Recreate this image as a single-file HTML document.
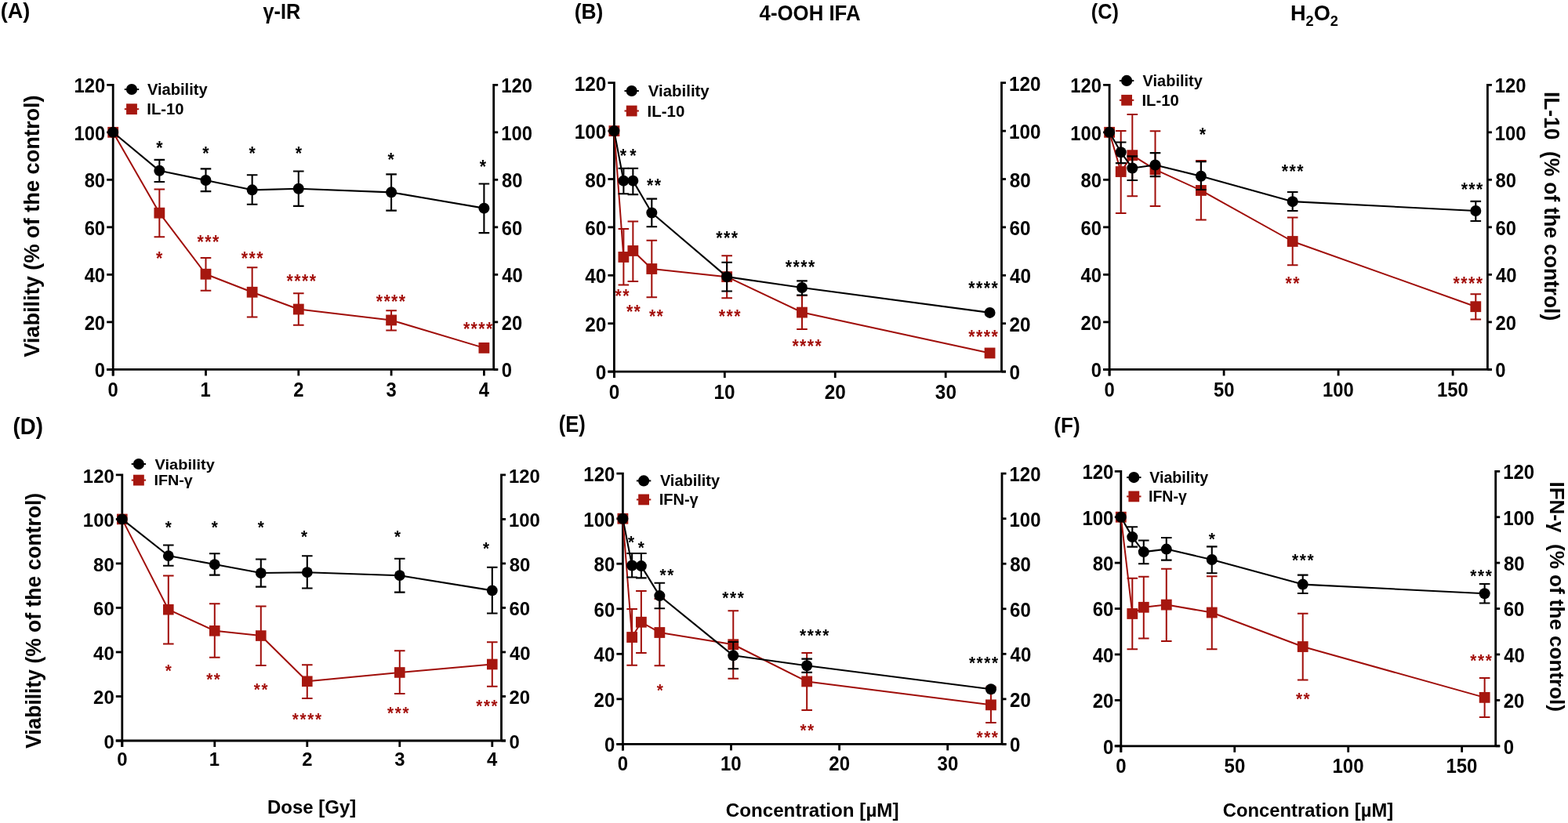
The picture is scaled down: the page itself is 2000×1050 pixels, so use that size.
<!DOCTYPE html>
<html><head><meta charset="utf-8"><title>Figure</title>
<style>
html,body{margin:0;padding:0;background:#fff;}
svg{display:block;}
text{font-family:'Liberation Sans',Arial,sans-serif;font-weight:bold;white-space:pre;}
</style></head>
<body>
<svg width="2000" height="1050" viewBox="0 0 2000 1050">
<rect width="2000" height="1050" fill="#fff"/>
<path d="M136.2,108.28H144.2V479.4" fill="none" stroke="#000" stroke-width="2.8" stroke-linejoin="miter"/>
<path d="M635.2,108.28H629.7V471.4" fill="none" stroke="#000" stroke-width="2.8" stroke-linejoin="miter"/>
<line x1="136.2" y1="471.4" x2="635.2" y2="471.4" stroke="#000" stroke-width="2.8"/>
<line x1="136.2" y1="471.4" x2="144.2" y2="471.4" stroke="#000" stroke-width="2.8"/>
<line x1="629.7" y1="471.4" x2="635.2" y2="471.4" stroke="#000" stroke-width="2.8"/>
<line x1="136.2" y1="410.88" x2="144.2" y2="410.88" stroke="#000" stroke-width="2.8"/>
<line x1="629.7" y1="410.88" x2="635.2" y2="410.88" stroke="#000" stroke-width="2.8"/>
<line x1="136.2" y1="350.36" x2="144.2" y2="350.36" stroke="#000" stroke-width="2.8"/>
<line x1="629.7" y1="350.36" x2="635.2" y2="350.36" stroke="#000" stroke-width="2.8"/>
<line x1="136.2" y1="289.84" x2="144.2" y2="289.84" stroke="#000" stroke-width="2.8"/>
<line x1="629.7" y1="289.84" x2="635.2" y2="289.84" stroke="#000" stroke-width="2.8"/>
<line x1="136.2" y1="229.32" x2="144.2" y2="229.32" stroke="#000" stroke-width="2.8"/>
<line x1="629.7" y1="229.32" x2="635.2" y2="229.32" stroke="#000" stroke-width="2.8"/>
<line x1="136.2" y1="168.8" x2="144.2" y2="168.8" stroke="#000" stroke-width="2.8"/>
<line x1="629.7" y1="168.8" x2="635.2" y2="168.8" stroke="#000" stroke-width="2.8"/>
<line x1="144.2" y1="471.4" x2="144.2" y2="479.4" stroke="#000" stroke-width="2.8"/>
<line x1="262.5" y1="471.4" x2="262.5" y2="479.4" stroke="#000" stroke-width="2.8"/>
<line x1="380.8" y1="471.4" x2="380.8" y2="479.4" stroke="#000" stroke-width="2.8"/>
<line x1="499.1" y1="471.4" x2="499.1" y2="479.4" stroke="#000" stroke-width="2.8"/>
<line x1="617.4" y1="471.4" x2="617.4" y2="479.4" stroke="#000" stroke-width="2.8"/>
<text transform="translate(120.84,481.49) scale(0.9300,1)" font-size="25.6" fill="#000">0</text>
<text transform="translate(639.65,481.49) scale(0.9300,1)" font-size="25.6" fill="#000">0</text>
<text transform="translate(107.63,420.97) scale(0.9300,1)" font-size="25.6" fill="#000">20</text>
<text transform="translate(639.77,420.97) scale(0.9300,1)" font-size="25.6" fill="#000">20</text>
<text transform="translate(107.63,360.45) scale(0.9300,1)" font-size="25.6" fill="#000">40</text>
<text transform="translate(640.24,360.45) scale(0.9300,1)" font-size="25.6" fill="#000">40</text>
<text transform="translate(107.63,299.93) scale(0.9300,1)" font-size="25.6" fill="#000">60</text>
<text transform="translate(639.77,299.93) scale(0.9300,1)" font-size="25.6" fill="#000">60</text>
<text transform="translate(107.63,239.41) scale(0.9300,1)" font-size="25.6" fill="#000">80</text>
<text transform="translate(639.89,239.41) scale(0.9300,1)" font-size="25.6" fill="#000">80</text>
<text transform="translate(94.41,178.89) scale(0.9300,1)" font-size="25.6" fill="#000">100</text>
<text transform="translate(639.17,178.89) scale(0.9300,1)" font-size="25.6" fill="#000">100</text>
<text transform="translate(94.41,118.37) scale(0.9300,1)" font-size="25.6" fill="#000">120</text>
<text transform="translate(639.17,118.37) scale(0.9300,1)" font-size="25.6" fill="#000">120</text>
<text transform="translate(137.59,505.92) scale(0.9300,1)" font-size="25.6" fill="#000">0</text>
<text transform="translate(255.48,505.92) scale(0.9300,1)" font-size="25.6" fill="#000">1</text>
<text transform="translate(374.25,505.92) scale(0.9300,1)" font-size="25.6" fill="#000">2</text>
<text transform="translate(492.61,505.92) scale(0.9300,1)" font-size="25.6" fill="#000">3</text>
<text transform="translate(610.67,505.92) scale(0.9300,1)" font-size="25.6" fill="#000">4</text>
<polyline points="144.2,168.8 203.35,271.68 262.5,349.75 321.65,372.75 380.8,394.54 499.1,408.46 617.4,443.86" fill="none" stroke="#a00e0a" stroke-width="2" stroke-linejoin="round"/>
<path d="M203.35,241.42V302.25M196.55,241.42H210.15M196.55,302.25H210.15" stroke="#a00e0a" stroke-width="2" fill="none"/>
<path d="M262.5,328.88V370.63M255.7,328.88H269.3M255.7,370.63H269.3" stroke="#a00e0a" stroke-width="2" fill="none"/>
<path d="M321.65,341.28V404.53M314.85,341.28H328.45M314.85,404.53H328.45" stroke="#a00e0a" stroke-width="2" fill="none"/>
<path d="M380.8,374.27V414.81M374,374.27H387.6M374,414.81H387.6" stroke="#a00e0a" stroke-width="2" fill="none"/>
<path d="M499.1,396.36V421.47M492.3,396.36H505.9M492.3,421.47H505.9" stroke="#a00e0a" stroke-width="2" fill="none"/>
<rect x="137.3" y="161.9" width="13.8" height="13.8" fill="#a6170f"/>
<rect x="196.45" y="264.78" width="13.8" height="13.8" fill="#a6170f"/>
<rect x="255.6" y="342.85" width="13.8" height="13.8" fill="#a6170f"/>
<rect x="314.75" y="365.85" width="13.8" height="13.8" fill="#a6170f"/>
<rect x="373.9" y="387.64" width="13.8" height="13.8" fill="#a6170f"/>
<rect x="492.2" y="401.56" width="13.8" height="13.8" fill="#a6170f"/>
<rect x="610.5" y="436.96" width="13.8" height="13.8" fill="#a6170f"/>
<polyline points="144.2,168.8 203.35,217.82 262.5,229.93 321.65,242.33 380.8,240.82 499.1,245.36 617.4,265.63" fill="none" stroke="#000" stroke-width="2.1" stroke-linejoin="round"/>
<path d="M203.35,203.9V232.04M196.55,203.9H210.15M196.55,232.04H210.15" stroke="#000" stroke-width="2.1" fill="none"/>
<path d="M262.5,215.4V244.15M255.7,215.4H269.3M255.7,244.15H269.3" stroke="#000" stroke-width="2.1" fill="none"/>
<path d="M321.65,223.27V260.79M314.85,223.27H328.45M314.85,260.79H328.45" stroke="#000" stroke-width="2.1" fill="none"/>
<path d="M380.8,218.43V262.91M374,218.43H387.6M374,262.91H387.6" stroke="#000" stroke-width="2.1" fill="none"/>
<path d="M499.1,222.36V268.66M492.3,222.36H505.9M492.3,268.66H505.9" stroke="#000" stroke-width="2.1" fill="none"/>
<path d="M617.4,234.46V297.1M610.6,234.46H624.2M610.6,297.1H624.2" stroke="#000" stroke-width="2.1" fill="none"/>
<circle cx="144.2" cy="168.8" r="7" fill="#000"/>
<circle cx="203.35" cy="217.82" r="7" fill="#000"/>
<circle cx="262.5" cy="229.93" r="7" fill="#000"/>
<circle cx="321.65" cy="242.33" r="7" fill="#000"/>
<circle cx="380.8" cy="240.82" r="7" fill="#000"/>
<circle cx="499.1" cy="245.36" r="7" fill="#000"/>
<circle cx="617.4" cy="265.63" r="7" fill="#000"/>
<text transform="translate(199.14,197.12) scale(0.92,1)" font-size="23.2" letter-spacing="1.52" fill="#000">*</text>
<text transform="translate(258.34,203.62) scale(0.92,1)" font-size="23.2" letter-spacing="1.52" fill="#000">*</text>
<text transform="translate(317.44,203.62) scale(0.92,1)" font-size="23.2" letter-spacing="1.52" fill="#000">*</text>
<text transform="translate(376.84,204.42) scale(0.92,1)" font-size="23.2" letter-spacing="1.52" fill="#000">*</text>
<text transform="translate(494.44,211.72) scale(0.92,1)" font-size="23.2" letter-spacing="1.52" fill="#000">*</text>
<text transform="translate(611.84,221.22) scale(0.92,1)" font-size="23.2" letter-spacing="1.52" fill="#000">*</text>
<text transform="translate(199.04,338.42) scale(0.92,1)" font-size="23.2" letter-spacing="1.52" fill="#a30f0b">*</text>
<text transform="translate(251.54,317.42) scale(0.92,1)" font-size="23.2" letter-spacing="1.52" fill="#a30f0b">***</text>
<text transform="translate(307.84,338.12) scale(0.92,1)" font-size="23.2" letter-spacing="1.52" fill="#a30f0b">***</text>
<text transform="translate(365.59,366.52) scale(0.92,1)" font-size="23.2" letter-spacing="1.52" fill="#a30f0b">****</text>
<text transform="translate(479.69,392.72) scale(0.92,1)" font-size="23.2" letter-spacing="1.52" fill="#a30f0b">****</text>
<text transform="translate(590.89,428.22) scale(0.92,1)" font-size="23.2" letter-spacing="1.52" fill="#a30f0b">****</text>
<line x1="158.8" y1="114" x2="177.2" y2="114" stroke="#000" stroke-width="2"/>
<circle cx="168" cy="114" r="7.1" fill="#000"/>
<line x1="158.8" y1="139.2" x2="177.2" y2="139.2" stroke="#a6170f" stroke-width="2"/>
<rect x="161.1" y="132.3" width="13.8" height="13.8" fill="#a6170f"/>
<text transform="translate(187.9,120.6) scale(1.0066,1)" font-size="20" fill="#000">Viability</text>
<text transform="translate(187.29,146.3) scale(1.0112,1)" font-size="20" fill="#000">IL-10</text>
<path d="M775.4,105.7H783.4V482.1" fill="none" stroke="#000" stroke-width="2.8" stroke-linejoin="miter"/>
<path d="M1283,105.7H1277.5V474.1" fill="none" stroke="#000" stroke-width="2.8" stroke-linejoin="miter"/>
<line x1="775.4" y1="474.1" x2="1283" y2="474.1" stroke="#000" stroke-width="2.8"/>
<line x1="775.4" y1="474.1" x2="783.4" y2="474.1" stroke="#000" stroke-width="2.8"/>
<line x1="1277.5" y1="474.1" x2="1283" y2="474.1" stroke="#000" stroke-width="2.8"/>
<line x1="775.4" y1="412.7" x2="783.4" y2="412.7" stroke="#000" stroke-width="2.8"/>
<line x1="1277.5" y1="412.7" x2="1283" y2="412.7" stroke="#000" stroke-width="2.8"/>
<line x1="775.4" y1="351.3" x2="783.4" y2="351.3" stroke="#000" stroke-width="2.8"/>
<line x1="1277.5" y1="351.3" x2="1283" y2="351.3" stroke="#000" stroke-width="2.8"/>
<line x1="775.4" y1="289.9" x2="783.4" y2="289.9" stroke="#000" stroke-width="2.8"/>
<line x1="1277.5" y1="289.9" x2="1283" y2="289.9" stroke="#000" stroke-width="2.8"/>
<line x1="775.4" y1="228.5" x2="783.4" y2="228.5" stroke="#000" stroke-width="2.8"/>
<line x1="1277.5" y1="228.5" x2="1283" y2="228.5" stroke="#000" stroke-width="2.8"/>
<line x1="775.4" y1="167.1" x2="783.4" y2="167.1" stroke="#000" stroke-width="2.8"/>
<line x1="1277.5" y1="167.1" x2="1283" y2="167.1" stroke="#000" stroke-width="2.8"/>
<line x1="783.4" y1="474.1" x2="783.4" y2="482.1" stroke="#000" stroke-width="2.8"/>
<line x1="924.33" y1="474.1" x2="924.33" y2="482.1" stroke="#000" stroke-width="2.8"/>
<line x1="1065.26" y1="474.1" x2="1065.26" y2="482.1" stroke="#000" stroke-width="2.8"/>
<line x1="1206.19" y1="474.1" x2="1206.19" y2="482.1" stroke="#000" stroke-width="2.8"/>
<text transform="translate(759.78,484.19) scale(0.9500,1)" font-size="25.6" fill="#000">0</text>
<text transform="translate(1287.43,484.19) scale(0.9500,1)" font-size="25.6" fill="#000">0</text>
<text transform="translate(746.28,422.79) scale(0.9500,1)" font-size="25.6" fill="#000">20</text>
<text transform="translate(1287.55,422.79) scale(0.9500,1)" font-size="25.6" fill="#000">20</text>
<text transform="translate(746.28,361.39) scale(0.9500,1)" font-size="25.6" fill="#000">40</text>
<text transform="translate(1288.04,361.39) scale(0.9500,1)" font-size="25.6" fill="#000">40</text>
<text transform="translate(746.28,299.99) scale(0.9500,1)" font-size="25.6" fill="#000">60</text>
<text transform="translate(1287.55,299.99) scale(0.9500,1)" font-size="25.6" fill="#000">60</text>
<text transform="translate(746.28,238.59) scale(0.9500,1)" font-size="25.6" fill="#000">80</text>
<text transform="translate(1287.67,238.59) scale(0.9500,1)" font-size="25.6" fill="#000">80</text>
<text transform="translate(732.78,177.19) scale(0.9500,1)" font-size="25.6" fill="#000">100</text>
<text transform="translate(1286.94,177.19) scale(0.9500,1)" font-size="25.6" fill="#000">100</text>
<text transform="translate(732.78,115.79) scale(0.9500,1)" font-size="25.6" fill="#000">120</text>
<text transform="translate(1286.94,115.79) scale(0.9500,1)" font-size="25.6" fill="#000">120</text>
<text transform="translate(776.65,509.32) scale(0.9500,1)" font-size="25.6" fill="#000">0</text>
<text transform="translate(910.59,509.32) scale(0.9500,1)" font-size="25.6" fill="#000">10</text>
<text transform="translate(1051.82,509.32) scale(0.9500,1)" font-size="25.6" fill="#000">20</text>
<text transform="translate(1192.87,509.32) scale(0.9500,1)" font-size="25.6" fill="#000">30</text>
<polyline points="783.4,167.1 795.38,327.97 807.36,319.99 831.32,343.01 927.15,353.14 1022.98,398.58 1262.56,450.46" fill="none" stroke="#a00e0a" stroke-width="2" stroke-linejoin="round"/>
<path d="M795.38,292.05V363.58M788.58,292.05H802.18M788.58,363.58H802.18" stroke="#a00e0a" stroke-width="2" fill="none"/>
<path d="M807.36,282.53V358.98M800.56,282.53H814.16M800.56,358.98H814.16" stroke="#a00e0a" stroke-width="2" fill="none"/>
<path d="M831.32,306.79V379.24M824.52,306.79H838.12M824.52,379.24H838.12" stroke="#a00e0a" stroke-width="2" fill="none"/>
<path d="M927.15,326.13V380.16M920.35,326.13H933.95M920.35,380.16H933.95" stroke="#a00e0a" stroke-width="2" fill="none"/>
<path d="M1022.98,377.09V420.07M1016.18,377.09H1029.78M1016.18,420.07H1029.78" stroke="#a00e0a" stroke-width="2" fill="none"/>
<rect x="776.5" y="160.2" width="13.8" height="13.8" fill="#a6170f"/>
<rect x="788.48" y="321.07" width="13.8" height="13.8" fill="#a6170f"/>
<rect x="800.46" y="313.09" width="13.8" height="13.8" fill="#a6170f"/>
<rect x="824.42" y="336.11" width="13.8" height="13.8" fill="#a6170f"/>
<rect x="920.25" y="346.24" width="13.8" height="13.8" fill="#a6170f"/>
<rect x="1016.08" y="391.68" width="13.8" height="13.8" fill="#a6170f"/>
<rect x="1255.66" y="443.56" width="13.8" height="13.8" fill="#a6170f"/>
<polyline points="783.4,167.1 795.38,230.65 807.36,230.65 831.32,271.48 927.15,353.14 1022.98,366.96 1262.56,398.89" fill="none" stroke="#000" stroke-width="2.1" stroke-linejoin="round"/>
<path d="M795.38,214.69V247.23M788.58,214.69H802.18M788.58,247.23H802.18" stroke="#000" stroke-width="2.1" fill="none"/>
<path d="M807.36,214.69V248.15M800.56,214.69H814.16M800.56,248.15H814.16" stroke="#000" stroke-width="2.1" fill="none"/>
<path d="M831.32,253.67V289.29M824.52,253.67H838.12M824.52,289.29H838.12" stroke="#000" stroke-width="2.1" fill="none"/>
<path d="M927.15,334.72V371.56M920.35,334.72H933.95M920.35,371.56H933.95" stroke="#000" stroke-width="2.1" fill="none"/>
<path d="M1022.98,358.36V376.47M1016.18,358.36H1029.78M1016.18,376.47H1029.78" stroke="#000" stroke-width="2.1" fill="none"/>
<circle cx="783.4" cy="167.1" r="7" fill="#000"/>
<circle cx="795.38" cy="230.65" r="7" fill="#000"/>
<circle cx="807.36" cy="230.65" r="7" fill="#000"/>
<circle cx="831.32" cy="271.48" r="7" fill="#000"/>
<circle cx="927.15" cy="353.14" r="7" fill="#000"/>
<circle cx="1022.98" cy="366.96" r="7" fill="#000"/>
<circle cx="1262.56" cy="398.89" r="7" fill="#000"/>
<text transform="translate(790.64,207.22) scale(0.92,1)" font-size="23.2" letter-spacing="1.52" fill="#000">*</text>
<text transform="translate(803.34,207.22) scale(0.92,1)" font-size="23.2" letter-spacing="1.52" fill="#000">*</text>
<text transform="translate(824.99,244.92) scale(0.92,1)" font-size="23.2" letter-spacing="1.52" fill="#000">**</text>
<text transform="translate(913.24,312.02) scale(0.92,1)" font-size="23.2" letter-spacing="1.52" fill="#000">***</text>
<text transform="translate(1001.79,348.92) scale(0.92,1)" font-size="23.2" letter-spacing="1.52" fill="#000">****</text>
<text transform="translate(1235.29,375.62) scale(0.92,1)" font-size="23.2" letter-spacing="1.52" fill="#000">****</text>
<text transform="translate(784.59,386.22) scale(0.92,1)" font-size="23.2" letter-spacing="1.52" fill="#a30f0b">**</text>
<text transform="translate(798.89,406.22) scale(0.92,1)" font-size="23.2" letter-spacing="1.52" fill="#a30f0b">**</text>
<text transform="translate(827.89,412.22) scale(0.92,1)" font-size="23.2" letter-spacing="1.52" fill="#a30f0b">**</text>
<text transform="translate(916.74,412.32) scale(0.92,1)" font-size="23.2" letter-spacing="1.52" fill="#a30f0b">***</text>
<text transform="translate(1010.39,449.52) scale(0.92,1)" font-size="23.2" letter-spacing="1.52" fill="#a30f0b">****</text>
<text transform="translate(1235.29,437.92) scale(0.92,1)" font-size="23.2" letter-spacing="1.52" fill="#a30f0b">****</text>
<line x1="796.5" y1="116" x2="814.9" y2="116" stroke="#000" stroke-width="2"/>
<circle cx="805.7" cy="116" r="7.1" fill="#000"/>
<line x1="796.5" y1="141.5" x2="814.9" y2="141.5" stroke="#a6170f" stroke-width="2"/>
<rect x="798.8" y="134.6" width="13.8" height="13.8" fill="#a6170f"/>
<text transform="translate(826.8,123.2) scale(1.0010,1)" font-size="20.4" fill="#000">Viability</text>
<text transform="translate(825.57,148.6) scale(1.0247,1)" font-size="20" fill="#000">IL-10</text>
<path d="M1407.1,108.28H1415.1V479.4" fill="none" stroke="#000" stroke-width="2.8" stroke-linejoin="miter"/>
<path d="M1902.9,108.28H1897.4V471.4" fill="none" stroke="#000" stroke-width="2.8" stroke-linejoin="miter"/>
<line x1="1407.1" y1="471.4" x2="1902.9" y2="471.4" stroke="#000" stroke-width="2.8"/>
<line x1="1407.1" y1="471.4" x2="1415.1" y2="471.4" stroke="#000" stroke-width="2.8"/>
<line x1="1897.4" y1="471.4" x2="1902.9" y2="471.4" stroke="#000" stroke-width="2.8"/>
<line x1="1407.1" y1="410.88" x2="1415.1" y2="410.88" stroke="#000" stroke-width="2.8"/>
<line x1="1897.4" y1="410.88" x2="1902.9" y2="410.88" stroke="#000" stroke-width="2.8"/>
<line x1="1407.1" y1="350.36" x2="1415.1" y2="350.36" stroke="#000" stroke-width="2.8"/>
<line x1="1897.4" y1="350.36" x2="1902.9" y2="350.36" stroke="#000" stroke-width="2.8"/>
<line x1="1407.1" y1="289.84" x2="1415.1" y2="289.84" stroke="#000" stroke-width="2.8"/>
<line x1="1897.4" y1="289.84" x2="1902.9" y2="289.84" stroke="#000" stroke-width="2.8"/>
<line x1="1407.1" y1="229.32" x2="1415.1" y2="229.32" stroke="#000" stroke-width="2.8"/>
<line x1="1897.4" y1="229.32" x2="1902.9" y2="229.32" stroke="#000" stroke-width="2.8"/>
<line x1="1407.1" y1="168.8" x2="1415.1" y2="168.8" stroke="#000" stroke-width="2.8"/>
<line x1="1897.4" y1="168.8" x2="1902.9" y2="168.8" stroke="#000" stroke-width="2.8"/>
<line x1="1415.1" y1="471.4" x2="1415.1" y2="479.4" stroke="#000" stroke-width="2.8"/>
<line x1="1561.1" y1="471.4" x2="1561.1" y2="479.4" stroke="#000" stroke-width="2.8"/>
<line x1="1707.1" y1="471.4" x2="1707.1" y2="479.4" stroke="#000" stroke-width="2.8"/>
<line x1="1853.1" y1="471.4" x2="1853.1" y2="479.4" stroke="#000" stroke-width="2.8"/>
<text transform="translate(1391.74,481.49) scale(0.9300,1)" font-size="25.6" fill="#000">0</text>
<text transform="translate(1907.35,481.49) scale(0.9300,1)" font-size="25.6" fill="#000">0</text>
<text transform="translate(1378.53,420.97) scale(0.9300,1)" font-size="25.6" fill="#000">20</text>
<text transform="translate(1907.47,420.97) scale(0.9300,1)" font-size="25.6" fill="#000">20</text>
<text transform="translate(1378.53,360.45) scale(0.9300,1)" font-size="25.6" fill="#000">40</text>
<text transform="translate(1907.94,360.45) scale(0.9300,1)" font-size="25.6" fill="#000">40</text>
<text transform="translate(1378.53,299.93) scale(0.9300,1)" font-size="25.6" fill="#000">60</text>
<text transform="translate(1907.47,299.93) scale(0.9300,1)" font-size="25.6" fill="#000">60</text>
<text transform="translate(1378.53,239.41) scale(0.9300,1)" font-size="25.6" fill="#000">80</text>
<text transform="translate(1907.59,239.41) scale(0.9300,1)" font-size="25.6" fill="#000">80</text>
<text transform="translate(1365.31,178.89) scale(0.9300,1)" font-size="25.6" fill="#000">100</text>
<text transform="translate(1906.87,178.89) scale(0.9300,1)" font-size="25.6" fill="#000">100</text>
<text transform="translate(1365.31,118.37) scale(0.9300,1)" font-size="25.6" fill="#000">120</text>
<text transform="translate(1906.87,118.37) scale(0.9300,1)" font-size="25.6" fill="#000">120</text>
<text transform="translate(1408.49,505.92) scale(0.9300,1)" font-size="25.6" fill="#000">0</text>
<text transform="translate(1548.01,505.92) scale(0.9300,1)" font-size="25.6" fill="#000">50</text>
<text transform="translate(1687.04,505.92) scale(0.9300,1)" font-size="25.6" fill="#000">100</text>
<text transform="translate(1833.04,505.92) scale(0.9300,1)" font-size="25.6" fill="#000">150</text>
<polyline points="1415.1,168.8 1429.7,219.03 1444.3,198.15 1473.5,216.31 1531.9,242.94 1648.7,308 1882.3,391.21" fill="none" stroke="#a00e0a" stroke-width="2" stroke-linejoin="round"/>
<path d="M1429.7,166.98V271.99M1422.9,166.98H1436.5M1422.9,271.99H1436.5" stroke="#a00e0a" stroke-width="2" fill="none"/>
<path d="M1444.3,146.11V250.2M1437.5,146.11H1451.1M1437.5,250.2H1451.1" stroke="#a00e0a" stroke-width="2" fill="none"/>
<path d="M1473.5,167.29V262.91M1466.7,167.29H1480.3M1466.7,262.91H1480.3" stroke="#a00e0a" stroke-width="2" fill="none"/>
<path d="M1531.9,205.11V280.46M1525.1,205.11H1538.7M1525.1,280.46H1538.7" stroke="#a00e0a" stroke-width="2" fill="none"/>
<path d="M1648.7,277.43V338.26M1641.9,277.43H1655.5M1641.9,338.26H1655.5" stroke="#a00e0a" stroke-width="2" fill="none"/>
<path d="M1882.3,375.17V407.55M1875.5,375.17H1889.1M1875.5,407.55H1889.1" stroke="#a00e0a" stroke-width="2" fill="none"/>
<rect x="1408.2" y="161.9" width="13.8" height="13.8" fill="#a6170f"/>
<rect x="1422.8" y="212.13" width="13.8" height="13.8" fill="#a6170f"/>
<rect x="1437.4" y="191.25" width="13.8" height="13.8" fill="#a6170f"/>
<rect x="1466.6" y="209.41" width="13.8" height="13.8" fill="#a6170f"/>
<rect x="1525" y="236.04" width="13.8" height="13.8" fill="#a6170f"/>
<rect x="1641.8" y="301.1" width="13.8" height="13.8" fill="#a6170f"/>
<rect x="1875.4" y="384.31" width="13.8" height="13.8" fill="#a6170f"/>
<polyline points="1415.1,168.8 1429.7,194.22 1444.3,214.49 1473.5,210.56 1531.9,224.78 1648.7,257.16 1882.3,268.96" fill="none" stroke="#000" stroke-width="2.1" stroke-linejoin="round"/>
<path d="M1429.7,181.51V208.14M1422.9,181.51H1436.5M1422.9,208.14H1436.5" stroke="#000" stroke-width="2.1" fill="none"/>
<path d="M1444.3,199.36V229.93M1437.5,199.36H1451.1M1437.5,229.93H1451.1" stroke="#000" stroke-width="2.1" fill="none"/>
<path d="M1473.5,195.13V225.08M1466.7,195.13H1480.3M1466.7,225.08H1480.3" stroke="#000" stroke-width="2.1" fill="none"/>
<path d="M1531.9,206.32V242.03M1525.1,206.32H1538.7M1525.1,242.03H1538.7" stroke="#000" stroke-width="2.1" fill="none"/>
<path d="M1648.7,245.06V268.96M1641.9,245.06H1655.5M1641.9,268.96H1655.5" stroke="#000" stroke-width="2.1" fill="none"/>
<path d="M1882.3,256.86V281.97M1875.5,256.86H1889.1M1875.5,281.97H1889.1" stroke="#000" stroke-width="2.1" fill="none"/>
<circle cx="1415.1" cy="168.8" r="7" fill="#000"/>
<circle cx="1429.7" cy="194.22" r="7" fill="#000"/>
<circle cx="1444.3" cy="214.49" r="7" fill="#000"/>
<circle cx="1473.5" cy="210.56" r="7" fill="#000"/>
<circle cx="1531.9" cy="224.78" r="7" fill="#000"/>
<circle cx="1648.7" cy="257.16" r="7" fill="#000"/>
<circle cx="1882.3" cy="268.96" r="7" fill="#000"/>
<text transform="translate(1529.84,179.72) scale(0.92,1)" font-size="23.2" letter-spacing="1.52" fill="#000">*</text>
<text transform="translate(1634.74,226.82) scale(0.92,1)" font-size="23.2" letter-spacing="1.52" fill="#000">***</text>
<text transform="translate(1863.64,249.52) scale(0.92,1)" font-size="23.2" letter-spacing="1.52" fill="#000">***</text>
<text transform="translate(1639.59,370.22) scale(0.92,1)" font-size="23.2" letter-spacing="1.52" fill="#a30f0b">**</text>
<text transform="translate(1853.59,369.72) scale(0.92,1)" font-size="23.2" letter-spacing="1.52" fill="#a30f0b">****</text>
<line x1="1427.9" y1="102.9" x2="1446.3" y2="102.9" stroke="#000" stroke-width="2"/>
<circle cx="1437.1" cy="102.9" r="7.1" fill="#000"/>
<line x1="1427.9" y1="127.8" x2="1446.3" y2="127.8" stroke="#a6170f" stroke-width="2"/>
<rect x="1430.2" y="120.9" width="13.8" height="13.8" fill="#a6170f"/>
<text transform="translate(1457.6,110) scale(0.9987,1)" font-size="20" fill="#000">Viability</text>
<text transform="translate(1456.38,134.9) scale(1.0135,1)" font-size="20" fill="#000">IL-10</text>
<path d="M147.8,605.88H155.8V953" fill="none" stroke="#000" stroke-width="2.8" stroke-linejoin="miter"/>
<path d="M645,605.88H639.5V945" fill="none" stroke="#000" stroke-width="2.8" stroke-linejoin="miter"/>
<line x1="147.8" y1="945" x2="645" y2="945" stroke="#000" stroke-width="2.8"/>
<line x1="147.8" y1="945" x2="155.8" y2="945" stroke="#000" stroke-width="2.8"/>
<line x1="639.5" y1="945" x2="645" y2="945" stroke="#000" stroke-width="2.8"/>
<line x1="147.8" y1="888.48" x2="155.8" y2="888.48" stroke="#000" stroke-width="2.8"/>
<line x1="639.5" y1="888.48" x2="645" y2="888.48" stroke="#000" stroke-width="2.8"/>
<line x1="147.8" y1="831.96" x2="155.8" y2="831.96" stroke="#000" stroke-width="2.8"/>
<line x1="639.5" y1="831.96" x2="645" y2="831.96" stroke="#000" stroke-width="2.8"/>
<line x1="147.8" y1="775.44" x2="155.8" y2="775.44" stroke="#000" stroke-width="2.8"/>
<line x1="639.5" y1="775.44" x2="645" y2="775.44" stroke="#000" stroke-width="2.8"/>
<line x1="147.8" y1="718.92" x2="155.8" y2="718.92" stroke="#000" stroke-width="2.8"/>
<line x1="639.5" y1="718.92" x2="645" y2="718.92" stroke="#000" stroke-width="2.8"/>
<line x1="147.8" y1="662.4" x2="155.8" y2="662.4" stroke="#000" stroke-width="2.8"/>
<line x1="639.5" y1="662.4" x2="645" y2="662.4" stroke="#000" stroke-width="2.8"/>
<line x1="155.8" y1="945" x2="155.8" y2="953" stroke="#000" stroke-width="2.8"/>
<line x1="273.8" y1="945" x2="273.8" y2="953" stroke="#000" stroke-width="2.8"/>
<line x1="391.8" y1="945" x2="391.8" y2="953" stroke="#000" stroke-width="2.8"/>
<line x1="509.8" y1="945" x2="509.8" y2="953" stroke="#000" stroke-width="2.8"/>
<line x1="627.8" y1="945" x2="627.8" y2="953" stroke="#000" stroke-width="2.8"/>
<text transform="translate(132.39,954.66) scale(0.9800,1)" font-size="24.4" fill="#000">0</text>
<text transform="translate(649.44,954.66) scale(0.9800,1)" font-size="24.4" fill="#000">0</text>
<text transform="translate(119.11,898.14) scale(0.9800,1)" font-size="24.4" fill="#000">20</text>
<text transform="translate(649.56,898.14) scale(0.9800,1)" font-size="24.4" fill="#000">20</text>
<text transform="translate(119.11,841.62) scale(0.9800,1)" font-size="24.4" fill="#000">40</text>
<text transform="translate(650.04,841.62) scale(0.9800,1)" font-size="24.4" fill="#000">40</text>
<text transform="translate(119.11,785.1) scale(0.9800,1)" font-size="24.4" fill="#000">60</text>
<text transform="translate(649.56,785.1) scale(0.9800,1)" font-size="24.4" fill="#000">60</text>
<text transform="translate(119.11,728.58) scale(0.9800,1)" font-size="24.4" fill="#000">80</text>
<text transform="translate(649.68,728.58) scale(0.9800,1)" font-size="24.4" fill="#000">80</text>
<text transform="translate(105.84,672.06) scale(0.9800,1)" font-size="24.4" fill="#000">100</text>
<text transform="translate(648.97,672.06) scale(0.9800,1)" font-size="24.4" fill="#000">100</text>
<text transform="translate(105.84,615.54) scale(0.9800,1)" font-size="24.4" fill="#000">120</text>
<text transform="translate(648.97,615.54) scale(0.9800,1)" font-size="24.4" fill="#000">120</text>
<text transform="translate(149.16,977.28) scale(0.9800,1)" font-size="24.4" fill="#000">0</text>
<text transform="translate(266.75,977.28) scale(0.9800,1)" font-size="24.4" fill="#000">1</text>
<text transform="translate(385.22,977.28) scale(0.9800,1)" font-size="24.4" fill="#000">2</text>
<text transform="translate(503.28,977.28) scale(0.9800,1)" font-size="24.4" fill="#000">3</text>
<text transform="translate(621.04,977.28) scale(0.9800,1)" font-size="24.4" fill="#000">4</text>
<polyline points="155.8,662.4 214.8,777.7 273.8,804.83 332.8,811.05 391.8,869.26 509.8,857.96 627.8,847.5" fill="none" stroke="#a00e0a" stroke-width="2" stroke-linejoin="round"/>
<path d="M214.8,734.46V821.5M208,734.46H221.6M208,821.5H221.6" stroke="#a00e0a" stroke-width="2" fill="none"/>
<path d="M273.8,770.35V838.74M267,770.35H280.6M267,838.74H280.6" stroke="#a00e0a" stroke-width="2" fill="none"/>
<path d="M332.8,773.46V848.92M326,773.46H339.6M326,848.92H339.6" stroke="#a00e0a" stroke-width="2" fill="none"/>
<path d="M391.8,848.35V891.02M385,848.35H398.6M385,891.02H398.6" stroke="#a00e0a" stroke-width="2" fill="none"/>
<path d="M509.8,830.26V885.09M503,830.26H516.6M503,885.09H516.6" stroke="#a00e0a" stroke-width="2" fill="none"/>
<path d="M627.8,819.24V875.76M621,819.24H634.6M621,875.76H634.6" stroke="#a00e0a" stroke-width="2" fill="none"/>
<rect x="149" y="655.6" width="13.6" height="13.6" fill="#a6170f"/>
<rect x="208" y="770.9" width="13.6" height="13.6" fill="#a6170f"/>
<rect x="267" y="798.03" width="13.6" height="13.6" fill="#a6170f"/>
<rect x="326" y="804.25" width="13.6" height="13.6" fill="#a6170f"/>
<rect x="385" y="862.46" width="13.6" height="13.6" fill="#a6170f"/>
<rect x="503" y="851.16" width="13.6" height="13.6" fill="#a6170f"/>
<rect x="621" y="840.7" width="13.6" height="13.6" fill="#a6170f"/>
<polyline points="155.8,662.4 214.8,709.03 273.8,720.05 332.8,731.07 391.8,730.22 509.8,734.18 627.8,753.4" fill="none" stroke="#000" stroke-width="2.1" stroke-linejoin="round"/>
<path d="M214.8,695.46V721.75M208,695.46H221.6M208,721.75H221.6" stroke="#000" stroke-width="2.1" fill="none"/>
<path d="M273.8,706.2V733.62M267,706.2H280.6M267,733.62H280.6" stroke="#000" stroke-width="2.1" fill="none"/>
<path d="M332.8,713.55V748.59M326,713.55H339.6M326,748.59H339.6" stroke="#000" stroke-width="2.1" fill="none"/>
<path d="M391.8,709.31V750.57M385,709.31H398.6M385,750.57H398.6" stroke="#000" stroke-width="2.1" fill="none"/>
<path d="M509.8,712.7V755.66M503,712.7H516.6M503,755.66H516.6" stroke="#000" stroke-width="2.1" fill="none"/>
<path d="M627.8,723.72V782.5M621,723.72H634.6M621,782.5H634.6" stroke="#000" stroke-width="2.1" fill="none"/>
<circle cx="155.8" cy="662.4" r="6.9" fill="#000"/>
<circle cx="214.8" cy="709.03" r="6.9" fill="#000"/>
<circle cx="273.8" cy="720.05" r="6.9" fill="#000"/>
<circle cx="332.8" cy="731.07" r="6.9" fill="#000"/>
<circle cx="391.8" cy="730.22" r="6.9" fill="#000"/>
<circle cx="509.8" cy="734.18" r="6.9" fill="#000"/>
<circle cx="627.8" cy="753.4" r="6.9" fill="#000"/>
<text transform="translate(210.78,680.31) scale(0.92,1)" font-size="22.4" letter-spacing="1.83" fill="#000">*</text>
<text transform="translate(269.68,680.31) scale(0.92,1)" font-size="22.4" letter-spacing="1.83" fill="#000">*</text>
<text transform="translate(328.68,680.31) scale(0.92,1)" font-size="22.4" letter-spacing="1.83" fill="#000">*</text>
<text transform="translate(383.98,691.71) scale(0.92,1)" font-size="22.4" letter-spacing="1.83" fill="#000">*</text>
<text transform="translate(502.98,691.71) scale(0.92,1)" font-size="22.4" letter-spacing="1.83" fill="#000">*</text>
<text transform="translate(615.98,707.11) scale(0.92,1)" font-size="22.4" letter-spacing="1.83" fill="#000">*</text>
<text transform="translate(210.78,863.21) scale(0.92,1)" font-size="22.4" letter-spacing="1.83" fill="#a30f0b">*</text>
<text transform="translate(263.13,873.91) scale(0.92,1)" font-size="22.4" letter-spacing="1.83" fill="#a30f0b">**</text>
<text transform="translate(323.73,886.51) scale(0.92,1)" font-size="22.4" letter-spacing="1.83" fill="#a30f0b">**</text>
<text transform="translate(372.83,925.11) scale(0.92,1)" font-size="22.4" letter-spacing="1.83" fill="#a30f0b">****</text>
<text transform="translate(493.98,917.11) scale(0.92,1)" font-size="22.4" letter-spacing="1.83" fill="#a30f0b">***</text>
<text transform="translate(607.18,907.91) scale(0.92,1)" font-size="22.4" letter-spacing="1.83" fill="#a30f0b">***</text>
<line x1="167.7" y1="592" x2="186.1" y2="592" stroke="#000" stroke-width="2"/>
<circle cx="176.9" cy="592" r="7.1" fill="#000"/>
<line x1="167.7" y1="612.6" x2="186.1" y2="612.6" stroke="#a6170f" stroke-width="2"/>
<rect x="170" y="605.7" width="13.8" height="13.8" fill="#a6170f"/>
<text transform="translate(197.6,598.6) scale(1.0739,1)" font-size="18.6" fill="#000">Viability</text>
<text transform="translate(196.42,619.1) scale(1.0620,1)" font-size="18.6" fill="#000">IFN-γ</text>
<path d="M786.4,604.16H794.4V957.4" fill="none" stroke="#000" stroke-width="2.8" stroke-linejoin="miter"/>
<path d="M1283.5,604.16H1278V949.4" fill="none" stroke="#000" stroke-width="2.8" stroke-linejoin="miter"/>
<line x1="786.4" y1="949.4" x2="1283.5" y2="949.4" stroke="#000" stroke-width="2.8"/>
<line x1="786.4" y1="949.4" x2="794.4" y2="949.4" stroke="#000" stroke-width="2.8"/>
<line x1="1278" y1="949.4" x2="1283.5" y2="949.4" stroke="#000" stroke-width="2.8"/>
<line x1="786.4" y1="891.86" x2="794.4" y2="891.86" stroke="#000" stroke-width="2.8"/>
<line x1="1278" y1="891.86" x2="1283.5" y2="891.86" stroke="#000" stroke-width="2.8"/>
<line x1="786.4" y1="834.32" x2="794.4" y2="834.32" stroke="#000" stroke-width="2.8"/>
<line x1="1278" y1="834.32" x2="1283.5" y2="834.32" stroke="#000" stroke-width="2.8"/>
<line x1="786.4" y1="776.78" x2="794.4" y2="776.78" stroke="#000" stroke-width="2.8"/>
<line x1="1278" y1="776.78" x2="1283.5" y2="776.78" stroke="#000" stroke-width="2.8"/>
<line x1="786.4" y1="719.24" x2="794.4" y2="719.24" stroke="#000" stroke-width="2.8"/>
<line x1="1278" y1="719.24" x2="1283.5" y2="719.24" stroke="#000" stroke-width="2.8"/>
<line x1="786.4" y1="661.7" x2="794.4" y2="661.7" stroke="#000" stroke-width="2.8"/>
<line x1="1278" y1="661.7" x2="1283.5" y2="661.7" stroke="#000" stroke-width="2.8"/>
<line x1="794.4" y1="949.4" x2="794.4" y2="957.4" stroke="#000" stroke-width="2.8"/>
<line x1="932.5" y1="949.4" x2="932.5" y2="957.4" stroke="#000" stroke-width="2.8"/>
<line x1="1070.6" y1="949.4" x2="1070.6" y2="957.4" stroke="#000" stroke-width="2.8"/>
<line x1="1208.7" y1="949.4" x2="1208.7" y2="957.4" stroke="#000" stroke-width="2.8"/>
<text transform="translate(770.94,959.27) scale(0.9600,1)" font-size="25" fill="#000">0</text>
<text transform="translate(1287.94,959.27) scale(0.9600,1)" font-size="25" fill="#000">0</text>
<text transform="translate(757.62,901.74) scale(0.9600,1)" font-size="25" fill="#000">20</text>
<text transform="translate(1288.06,901.74) scale(0.9600,1)" font-size="25" fill="#000">20</text>
<text transform="translate(757.62,844.19) scale(0.9600,1)" font-size="25" fill="#000">40</text>
<text transform="translate(1288.54,844.19) scale(0.9600,1)" font-size="25" fill="#000">40</text>
<text transform="translate(757.62,786.65) scale(0.9600,1)" font-size="25" fill="#000">60</text>
<text transform="translate(1288.06,786.65) scale(0.9600,1)" font-size="25" fill="#000">60</text>
<text transform="translate(757.62,729.12) scale(0.9600,1)" font-size="25" fill="#000">80</text>
<text transform="translate(1288.18,729.12) scale(0.9600,1)" font-size="25" fill="#000">80</text>
<text transform="translate(744.3,671.58) scale(0.9600,1)" font-size="25" fill="#000">100</text>
<text transform="translate(1287.46,671.58) scale(0.9600,1)" font-size="25" fill="#000">100</text>
<text transform="translate(744.3,614.04) scale(0.9600,1)" font-size="25" fill="#000">120</text>
<text transform="translate(1287.46,614.04) scale(0.9600,1)" font-size="25" fill="#000">120</text>
<text transform="translate(787.74,982.6) scale(0.9600,1)" font-size="25" fill="#000">0</text>
<text transform="translate(918.94,982.6) scale(0.9600,1)" font-size="25" fill="#000">10</text>
<text transform="translate(1057.34,982.6) scale(0.9600,1)" font-size="25" fill="#000">20</text>
<text transform="translate(1195.56,982.6) scale(0.9600,1)" font-size="25" fill="#000">30</text>
<polyline points="794.4,661.7 806.14,813.03 817.88,793.75 841.35,806.99 935.26,822.24 1029.17,869.42 1263.94,899.34" fill="none" stroke="#a00e0a" stroke-width="2" stroke-linejoin="round"/>
<path d="M806.14,777.07V848.7M799.34,777.07H812.94M799.34,848.7H812.94" stroke="#a00e0a" stroke-width="2" fill="none"/>
<path d="M817.88,754.05V832.88M811.08,754.05H824.68M811.08,832.88H824.68" stroke="#a00e0a" stroke-width="2" fill="none"/>
<path d="M841.35,764.12V849.28M834.55,764.12H848.15M834.55,849.28H848.15" stroke="#a00e0a" stroke-width="2" fill="none"/>
<path d="M935.26,779.37V865.68M928.46,779.37H942.06M928.46,865.68H942.06" stroke="#a00e0a" stroke-width="2" fill="none"/>
<path d="M1029.17,832.88V905.96M1022.37,832.88H1035.97M1022.37,905.96H1035.97" stroke="#a00e0a" stroke-width="2" fill="none"/>
<path d="M1263.94,876.61V922.07M1257.14,876.61H1270.74M1257.14,922.07H1270.74" stroke="#a00e0a" stroke-width="2" fill="none"/>
<rect x="787.5" y="654.8" width="13.8" height="13.8" fill="#a6170f"/>
<rect x="799.24" y="806.13" width="13.8" height="13.8" fill="#a6170f"/>
<rect x="810.98" y="786.85" width="13.8" height="13.8" fill="#a6170f"/>
<rect x="834.45" y="800.09" width="13.8" height="13.8" fill="#a6170f"/>
<rect x="928.36" y="815.34" width="13.8" height="13.8" fill="#a6170f"/>
<rect x="1022.27" y="862.52" width="13.8" height="13.8" fill="#a6170f"/>
<rect x="1257.04" y="892.44" width="13.8" height="13.8" fill="#a6170f"/>
<polyline points="794.4,661.7 806.14,721.54 817.88,722.12 841.35,760.09 935.26,836.33 1029.17,849.28 1263.94,879.2" fill="none" stroke="#000" stroke-width="2.1" stroke-linejoin="round"/>
<path d="M806.14,706.01V736.5M799.34,706.01H812.94M799.34,736.5H812.94" stroke="#000" stroke-width="2.1" fill="none"/>
<path d="M817.88,706.01V737.37M811.08,706.01H824.68M811.08,737.37H824.68" stroke="#000" stroke-width="2.1" fill="none"/>
<path d="M841.35,743.69V776.2M834.55,743.69H848.15M834.55,776.2H848.15" stroke="#000" stroke-width="2.1" fill="none"/>
<path d="M935.26,819.07V853.31M928.46,819.07H942.06M928.46,853.31H942.06" stroke="#000" stroke-width="2.1" fill="none"/>
<path d="M1029.17,840.65V857.91M1022.37,840.65H1035.97M1022.37,857.91H1035.97" stroke="#000" stroke-width="2.1" fill="none"/>
<circle cx="794.4" cy="661.7" r="7" fill="#000"/>
<circle cx="806.14" cy="721.54" r="7" fill="#000"/>
<circle cx="817.88" cy="722.12" r="7" fill="#000"/>
<circle cx="841.35" cy="760.09" r="7" fill="#000"/>
<circle cx="935.26" cy="836.33" r="7" fill="#000"/>
<circle cx="1029.17" cy="849.28" r="7" fill="#000"/>
<circle cx="1263.94" cy="879.2" r="7" fill="#000"/>
<text transform="translate(801.05,698.91) scale(0.92,1)" font-size="22.6" letter-spacing="1.75" fill="#000">*</text>
<text transform="translate(813.75,706.01) scale(0.92,1)" font-size="22.6" letter-spacing="1.75" fill="#000">*</text>
<text transform="translate(841.5,740.71) scale(0.92,1)" font-size="22.6" letter-spacing="1.75" fill="#000">**</text>
<text transform="translate(921.25,770.21) scale(0.92,1)" font-size="22.6" letter-spacing="1.75" fill="#000">***</text>
<text transform="translate(1020.1,818.41) scale(0.92,1)" font-size="22.6" letter-spacing="1.75" fill="#000">****</text>
<text transform="translate(1235.9,852.91) scale(0.92,1)" font-size="22.6" letter-spacing="1.75" fill="#000">****</text>
<text transform="translate(837.65,888.21) scale(0.92,1)" font-size="22.6" letter-spacing="1.75" fill="#a30f0b">*</text>
<text transform="translate(1020.4,938.81) scale(0.92,1)" font-size="22.6" letter-spacing="1.75" fill="#a30f0b">**</text>
<text transform="translate(1245.45,947.91) scale(0.92,1)" font-size="22.6" letter-spacing="1.75" fill="#a30f0b">***</text>
<line x1="811.9" y1="613.4" x2="830.3" y2="613.4" stroke="#000" stroke-width="2"/>
<circle cx="821.1" cy="613.4" r="7.1" fill="#000"/>
<line x1="811.9" y1="637.4" x2="830.3" y2="637.4" stroke="#a6170f" stroke-width="2"/>
<rect x="814.2" y="630.5" width="13.8" height="13.8" fill="#a6170f"/>
<text transform="translate(841.9,620.3) scale(1.0191,1)" font-size="19.6" fill="#000">Viability</text>
<text transform="translate(840.7,644.1) scale(1.0363,1)" font-size="19.3" fill="#000">IFN-γ</text>
<path d="M1421.8,601.28H1429.8V959.8" fill="none" stroke="#000" stroke-width="2.8" stroke-linejoin="miter"/>
<path d="M1913.2,601.28H1907.7V951.8" fill="none" stroke="#000" stroke-width="2.8" stroke-linejoin="miter"/>
<line x1="1421.8" y1="951.8" x2="1913.2" y2="951.8" stroke="#000" stroke-width="2.8"/>
<line x1="1421.8" y1="951.8" x2="1429.8" y2="951.8" stroke="#000" stroke-width="2.8"/>
<line x1="1907.7" y1="951.8" x2="1913.2" y2="951.8" stroke="#000" stroke-width="2.8"/>
<line x1="1421.8" y1="893.38" x2="1429.8" y2="893.38" stroke="#000" stroke-width="2.8"/>
<line x1="1907.7" y1="893.38" x2="1913.2" y2="893.38" stroke="#000" stroke-width="2.8"/>
<line x1="1421.8" y1="834.96" x2="1429.8" y2="834.96" stroke="#000" stroke-width="2.8"/>
<line x1="1907.7" y1="834.96" x2="1913.2" y2="834.96" stroke="#000" stroke-width="2.8"/>
<line x1="1421.8" y1="776.54" x2="1429.8" y2="776.54" stroke="#000" stroke-width="2.8"/>
<line x1="1907.7" y1="776.54" x2="1913.2" y2="776.54" stroke="#000" stroke-width="2.8"/>
<line x1="1421.8" y1="718.12" x2="1429.8" y2="718.12" stroke="#000" stroke-width="2.8"/>
<line x1="1907.7" y1="718.12" x2="1913.2" y2="718.12" stroke="#000" stroke-width="2.8"/>
<line x1="1421.8" y1="659.7" x2="1429.8" y2="659.7" stroke="#000" stroke-width="2.8"/>
<line x1="1907.7" y1="659.7" x2="1913.2" y2="659.7" stroke="#000" stroke-width="2.8"/>
<line x1="1429.8" y1="951.8" x2="1429.8" y2="959.8" stroke="#000" stroke-width="2.8"/>
<line x1="1574.75" y1="951.8" x2="1574.75" y2="959.8" stroke="#000" stroke-width="2.8"/>
<line x1="1719.7" y1="951.8" x2="1719.7" y2="959.8" stroke="#000" stroke-width="2.8"/>
<line x1="1864.65" y1="951.8" x2="1864.65" y2="959.8" stroke="#000" stroke-width="2.8"/>
<text transform="translate(1407.04,961.67) scale(0.9600,1)" font-size="25" fill="#000">0</text>
<text transform="translate(1917.64,961.67) scale(0.9600,1)" font-size="25" fill="#000">0</text>
<text transform="translate(1393.72,903.25) scale(0.9600,1)" font-size="25" fill="#000">20</text>
<text transform="translate(1917.76,903.25) scale(0.9600,1)" font-size="25" fill="#000">20</text>
<text transform="translate(1393.72,844.83) scale(0.9600,1)" font-size="25" fill="#000">40</text>
<text transform="translate(1918.24,844.83) scale(0.9600,1)" font-size="25" fill="#000">40</text>
<text transform="translate(1393.72,786.41) scale(0.9600,1)" font-size="25" fill="#000">60</text>
<text transform="translate(1917.76,786.41) scale(0.9600,1)" font-size="25" fill="#000">60</text>
<text transform="translate(1393.72,728) scale(0.9600,1)" font-size="25" fill="#000">80</text>
<text transform="translate(1917.88,728) scale(0.9600,1)" font-size="25" fill="#000">80</text>
<text transform="translate(1380.4,669.58) scale(0.9600,1)" font-size="25" fill="#000">100</text>
<text transform="translate(1917.16,669.58) scale(0.9600,1)" font-size="25" fill="#000">100</text>
<text transform="translate(1380.4,611.15) scale(0.9600,1)" font-size="25" fill="#000">120</text>
<text transform="translate(1917.16,611.15) scale(0.9600,1)" font-size="25" fill="#000">120</text>
<text transform="translate(1423.14,985.5) scale(0.9600,1)" font-size="25" fill="#000">0</text>
<text transform="translate(1561.55,985.5) scale(0.9600,1)" font-size="25" fill="#000">50</text>
<text transform="translate(1699.48,985.5) scale(0.9600,1)" font-size="25" fill="#000">100</text>
<text transform="translate(1844.43,985.5) scale(0.9600,1)" font-size="25" fill="#000">150</text>
<polyline points="1429.8,659.7 1444.29,782.97 1458.79,774.79 1487.78,771.57 1545.76,781.51 1661.72,825.03 1893.64,889.87" fill="none" stroke="#a00e0a" stroke-width="2" stroke-linejoin="round"/>
<path d="M1444.29,737.69V828.24M1437.49,737.69H1451.09M1437.49,828.24H1451.09" stroke="#a00e0a" stroke-width="2" fill="none"/>
<path d="M1458.79,735.65V814.51M1451.99,735.65H1465.59M1451.99,814.51H1465.59" stroke="#a00e0a" stroke-width="2" fill="none"/>
<path d="M1487.78,725.71V818.02M1480.98,725.71H1494.58M1480.98,818.02H1494.58" stroke="#a00e0a" stroke-width="2" fill="none"/>
<path d="M1545.76,735.35V828.24M1538.96,735.35H1552.56M1538.96,828.24H1552.56" stroke="#a00e0a" stroke-width="2" fill="none"/>
<path d="M1661.72,782.67V867.38M1654.92,782.67H1668.52M1654.92,867.38H1668.52" stroke="#a00e0a" stroke-width="2" fill="none"/>
<path d="M1893.64,865.05V915M1886.84,865.05H1900.44M1886.84,915H1900.44" stroke="#a00e0a" stroke-width="2" fill="none"/>
<rect x="1422.9" y="652.8" width="13.8" height="13.8" fill="#a6170f"/>
<rect x="1437.39" y="776.07" width="13.8" height="13.8" fill="#a6170f"/>
<rect x="1451.89" y="767.89" width="13.8" height="13.8" fill="#a6170f"/>
<rect x="1480.88" y="764.67" width="13.8" height="13.8" fill="#a6170f"/>
<rect x="1538.86" y="774.61" width="13.8" height="13.8" fill="#a6170f"/>
<rect x="1654.82" y="818.13" width="13.8" height="13.8" fill="#a6170f"/>
<rect x="1886.74" y="882.97" width="13.8" height="13.8" fill="#a6170f"/>
<polyline points="1429.8,659.7 1444.29,685.11 1458.79,704.1 1487.78,700.59 1545.76,714.03 1661.72,745.58 1893.64,757.26" fill="none" stroke="#000" stroke-width="2.1" stroke-linejoin="round"/>
<path d="M1444.29,672.26V697.67M1437.49,672.26H1451.09M1437.49,697.67H1451.09" stroke="#000" stroke-width="2.1" fill="none"/>
<path d="M1458.79,689.49V719.29M1451.99,689.49H1465.59M1451.99,719.29H1465.59" stroke="#000" stroke-width="2.1" fill="none"/>
<path d="M1487.78,685.99V714.61M1480.98,685.99H1494.58M1480.98,714.61H1494.58" stroke="#000" stroke-width="2.1" fill="none"/>
<path d="M1545.76,697.38V731.26M1538.96,697.38H1552.56M1538.96,731.26H1552.56" stroke="#000" stroke-width="2.1" fill="none"/>
<path d="M1661.72,733.6V756.97M1654.92,733.6H1668.52M1654.92,756.97H1668.52" stroke="#000" stroke-width="2.1" fill="none"/>
<path d="M1893.64,744.99V769.53M1886.84,744.99H1900.44M1886.84,769.53H1900.44" stroke="#000" stroke-width="2.1" fill="none"/>
<circle cx="1429.8" cy="659.7" r="7" fill="#000"/>
<circle cx="1444.29" cy="685.11" r="7" fill="#000"/>
<circle cx="1458.79" cy="704.1" r="7" fill="#000"/>
<circle cx="1487.78" cy="700.59" r="7" fill="#000"/>
<circle cx="1545.76" cy="714.03" r="7" fill="#000"/>
<circle cx="1661.72" cy="745.58" r="7" fill="#000"/>
<circle cx="1893.64" cy="757.26" r="7" fill="#000"/>
<text transform="translate(1541.75,694.91) scale(0.92,1)" font-size="22.6" letter-spacing="1.75" fill="#000">*</text>
<text transform="translate(1648.05,722.31) scale(0.92,1)" font-size="22.6" letter-spacing="1.75" fill="#000">***</text>
<text transform="translate(1875.25,742.31) scale(0.92,1)" font-size="22.6" letter-spacing="1.75" fill="#000">***</text>
<text transform="translate(1652.9,899.01) scale(0.92,1)" font-size="22.6" letter-spacing="1.75" fill="#a30f0b">**</text>
<text transform="translate(1875.25,850.21) scale(0.92,1)" font-size="22.6" letter-spacing="1.75" fill="#a30f0b">***</text>
<line x1="1437.1" y1="609.1" x2="1455.5" y2="609.1" stroke="#000" stroke-width="2"/>
<circle cx="1446.3" cy="609.1" r="7.1" fill="#000"/>
<line x1="1437.1" y1="633.4" x2="1455.5" y2="633.4" stroke="#a6170f" stroke-width="2"/>
<rect x="1439.4" y="626.5" width="13.8" height="13.8" fill="#a6170f"/>
<text transform="translate(1466.2,616.3) scale(1.0186,1)" font-size="19.3" fill="#000">Viability</text>
<text transform="translate(1465.03,640) scale(1.0107,1)" font-size="19.3" fill="#000">IFN-γ</text>
<text transform="translate(0.64,23.21) scale(0.9833,1)" font-size="27.59" fill="#000">(A)</text>
<text transform="translate(335.57,24) scale(0.9290,1)" font-size="27.2" fill="#000">γ-IR</text>
<text transform="translate(732.68,23.72) scale(0.9406,1)" font-size="28.02" fill="#000">(B)</text>
<text transform="translate(968.61,25.73) scale(0.9643,1)" font-size="26.76" fill="#000">4-OOH IFA</text>
<text transform="translate(1391.74,23.72) scale(0.9019,1)" font-size="28.02" fill="#000">(C)</text>
<text transform="translate(16.62,554.18) scale(0.9628,1)" font-size="28.66" fill="#000">(D)</text>
<text transform="translate(712.72,551.18) scale(0.8927,1)" font-size="28.66" fill="#000">(E)</text>
<text transform="translate(1344.29,551.72) scale(0.9315,1)" font-size="28.02" fill="#000">(F)</text>
<text x="1646" y="26" font-size="27.54" fill="#000" textLength="61" lengthAdjust="spacingAndGlyphs">H<tspan font-size="18.45" dy="7">2</tspan><tspan dy="-7">O</tspan><tspan font-size="18.45" dy="7">2</tspan></text>
<text transform="translate(340.94,1038.13) scale(1.0350,1)" font-size="23.21" fill="#000">Dose [Gy]</text>
<text transform="translate(925.73,1041.84) scale(1.0232,1)" font-size="23.64" fill="#000">Concentration [µM]</text>
<text transform="translate(1559.75,1041.68) scale(0.9768,1)" font-size="24.39" fill="#000">Concentration [µM]</text>
<text transform="translate(49.5,455.84) rotate(-90) scale(0.9913,1)" font-size="27.41" fill="#000">Viability (% of the control)</text>
<text transform="translate(52,955.03) rotate(-90) scale(0.9614,1)" font-size="27.55" fill="#000">Viability (% of the control)</text>
<text transform="translate(1970.3,116.89) rotate(90) scale(0.9696,1)" font-size="27.13" fill="#000">IL-10  (% of the control)</text>
<text transform="translate(1976.6,614.41) rotate(90) scale(0.9909,1)" font-size="26.29" fill="#000">IFN-γ  (% of the control)</text>
</svg>
</body></html>
